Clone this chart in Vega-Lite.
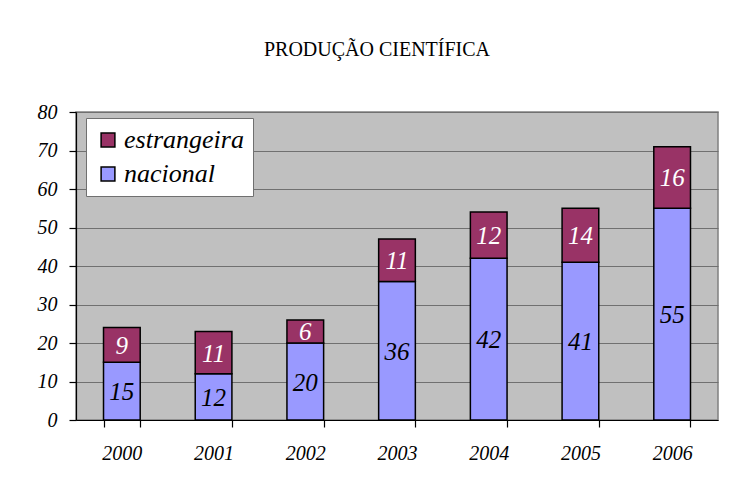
{
  "$schema": "https://vega.github.io/schema/vega-lite/v6.json",
  "width": 642,
  "height": 308,
  "autosize": {"type": "none"},
  "padding": {"left": 76, "top": 112, "right": 20, "bottom": 68},
  "background": "white",
  "title": {
    "text": "PRODUÇÃO CIENTÍFICA",
    "font": "Liberation Serif",
    "fontSize": 20,
    "fontWeight": "normal",
    "color": "black",
    "anchor": "middle",
    "dx": -20,
    "offset": 42
  },
  "data": {
    "values": [
      {"ano": "2000", "serie": "nacional", "valor": 15},
      {"ano": "2000", "serie": "estrangeira", "valor": 9},
      {"ano": "2001", "serie": "nacional", "valor": 12},
      {"ano": "2001", "serie": "estrangeira", "valor": 11},
      {"ano": "2002", "serie": "nacional", "valor": 20},
      {"ano": "2002", "serie": "estrangeira", "valor": 6},
      {"ano": "2003", "serie": "nacional", "valor": 36},
      {"ano": "2003", "serie": "estrangeira", "valor": 11},
      {"ano": "2004", "serie": "nacional", "valor": 42},
      {"ano": "2004", "serie": "estrangeira", "valor": 12},
      {"ano": "2005", "serie": "nacional", "valor": 41},
      {"ano": "2005", "serie": "estrangeira", "valor": 14},
      {"ano": "2006", "serie": "nacional", "valor": 55},
      {"ano": "2006", "serie": "estrangeira", "valor": 16}
    ]
  },
  "layer": [
    {
      "mark": {"type": "bar", "stroke": "black", "strokeWidth": 1.5},
      "encoding": {
        "x": {
          "field": "ano",
          "type": "ordinal",
          "title": null,
          "scale": {"paddingInner": 0.6, "paddingOuter": 0.3},
          "axis": {"labelAngle": 0, "tickBand": "extent"}
        },
        "y": {
          "field": "valor",
          "type": "quantitative",
          "stack": "zero",
          "title": null,
          "scale": {"domain": [0, 80], "nice": false},
          "axis": {"values": [0, 10, 20, 30, 40, 50, 60, 70, 80], "grid": true}
        },
        "order": {"field": "serie", "sort": "descending"},
        "color": {
          "field": "serie",
          "type": "nominal",
          "scale": {"domain": ["estrangeira", "nacional"], "range": ["#993366", "#9999FF"]},
          "legend": {
            "title": null,
            "orient": "none",
            "legendX": 10,
            "legendY": 6,
            "fillColor": "white",
            "strokeColor": "#707070",
            "padding": 9,
            "symbolType": "square",
            "symbolSize": 190,
            "symbolStrokeColor": "black",
            "symbolStrokeWidth": 1.5,
            "symbolOpacity": 1,
            "rowPadding": 8,
            "labelFontSize": 26,
            "labelColor": "black",
            "labelOffset": 3,
            "labelLimit": 300
          }
        }
      }
    },
    {
      "transform": [
        {"stack": "valor", "groupby": ["ano"], "sort": [{"field": "serie", "order": "descending"}], "as": ["v0", "v1"]},
        {"calculate": "(datum.v0 + datum.v1) / 2", "as": "meio"},
        {"calculate": "datum.serie == 'nacional' ? 'black' : 'white'", "as": "cor"}
      ],
      "mark": {"type": "text", "fontSize": 25, "baseline": "middle", "dy": 1},
      "encoding": {
        "x": {"field": "ano", "type": "ordinal", "title": null, "axis": {"labelAngle": 0, "tickBand": "extent"}},
        "y": {"field": "meio", "type": "quantitative", "title": null, "axis": {"values": [0, 10, 20, 30, 40, 50, 60, 70, 80], "grid": true}},
        "text": {"field": "valor", "type": "quantitative"},
        "color": {"field": "cor", "type": "nominal", "scale": null, "legend": null}
      }
    }
  ],
  "config": {
    "font": "Liberation Serif",
    "view": {"fill": "#C0C0C0", "stroke": "#808080", "strokeWidth": 1.5},
    "text": {"font": "Liberation Serif", "fontStyle": "italic"},
    "legend": {"labelFont": "Liberation Serif", "labelFontStyle": "italic"},
    "axis": {
      "domainWidth": 1.2,
      "tickWidth": 1.2,
      "domainColor": "black",
      "tickColor": "black",
      "tickSize": 7,
      "labelFont": "Liberation Serif",
      "labelFontStyle": "italic",
      "labelFontSize": 20,
      "labelColor": "black",
      "gridColor": "#707070",
      "gridWidth": 1.2
    },
    "axisX": {"labelPadding": 16},
    "axisY": {"labelPadding": 12}
  }
}
